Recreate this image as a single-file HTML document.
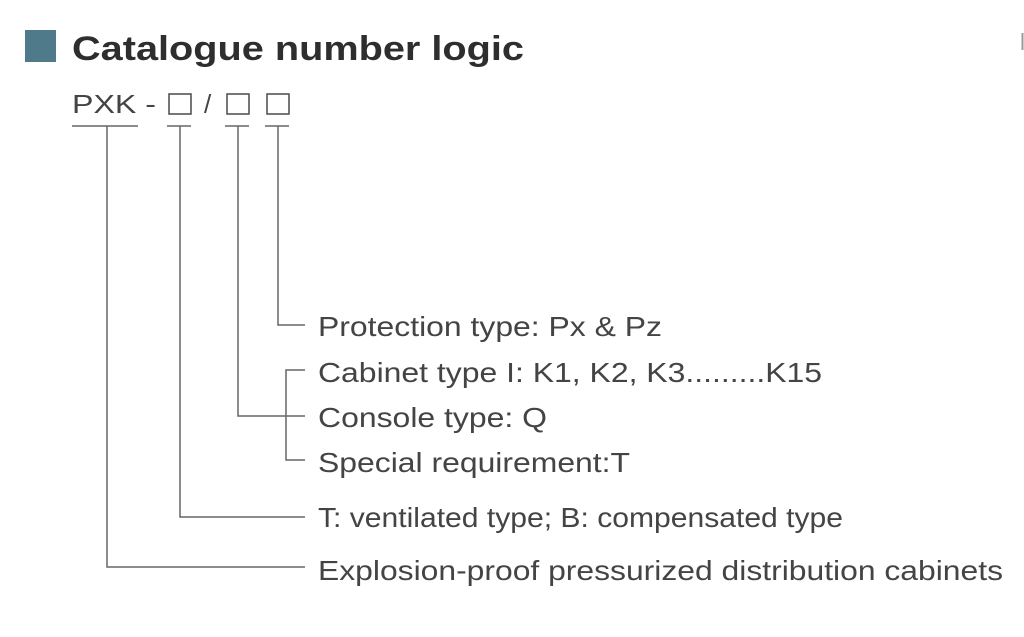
<!DOCTYPE html>
<html><head><meta charset="utf-8"><style>
html,body{margin:0;padding:0;background:#fff;width:1024px;height:637px;overflow:hidden}
svg{display:block}
text{font-family:"Liberation Sans",Arial,sans-serif}
</style></head><body>
<svg width="1024" height="637" viewBox="0 0 1024 637">
<rect x="25" y="30" width="31" height="32" fill="#4f7a8a"/>
<text x="72" y="60" font-size="34" font-weight="bold" fill="#2e2e2e" textLength="452" lengthAdjust="spacingAndGlyphs">Catalogue number logic</text>
<line x1="1022.5" y1="33" x2="1022.5" y2="50" stroke="#999" stroke-width="2"/>
<g fill="#444" font-size="26">
<text x="72" y="113" textLength="84" lengthAdjust="spacingAndGlyphs">PXK -</text>
<text x="204" y="113">/</text>
</g>
<g fill="none" stroke="#555" stroke-width="1.6">
<rect x="169" y="94" width="22" height="20"/>
<rect x="227" y="94" width="22" height="20"/>
<rect x="267" y="94" width="22" height="20"/>
</g>
<g fill="none" stroke="#666" stroke-width="1.5">
<line x1="72" y1="126" x2="138" y2="126"/>
<line x1="167" y1="126" x2="191" y2="126"/>
<line x1="225" y1="126" x2="249" y2="126"/>
<line x1="265" y1="126" x2="289" y2="126"/>
<polyline points="278,126 278,325 305,325"/>
<polyline points="238,126 238,416 305,416"/>
<polyline points="305,370 286,370 286,460 305,460"/>
<polyline points="180,126 180,517 305,517"/>
<polyline points="107,126 107,567 305,567"/>
</g>
<g fill="#444" font-size="28">
<text x="318" y="336" textLength="344" lengthAdjust="spacingAndGlyphs">Protection type: Px &amp; Pz</text>
<text x="318" y="382" textLength="504" lengthAdjust="spacingAndGlyphs">Cabinet type I: K1, K2, K3.........K15</text>
<text x="318" y="427" textLength="229" lengthAdjust="spacingAndGlyphs">Console type: Q</text>
<text x="318" y="472" textLength="312" lengthAdjust="spacingAndGlyphs">Special requirement:T</text>
<text x="318" y="527" textLength="525" lengthAdjust="spacingAndGlyphs">T: ventilated type; B: compensated type</text>
<text x="318" y="580" textLength="685" lengthAdjust="spacingAndGlyphs">Explosion-proof pressurized distribution cabinets</text>
</g>
</svg>
</body></html>
